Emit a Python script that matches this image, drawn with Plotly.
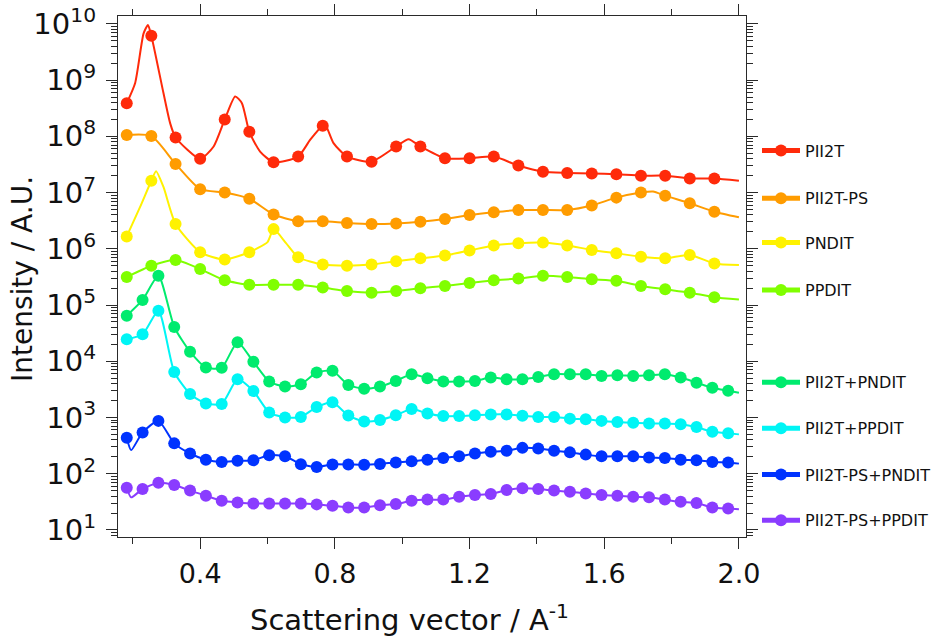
import plotly.graph_objects as go

# ---------------- data ----------------
# marker positions (scattering vector, 1/A)
Q_UPPER = [0.182, 0.255, 0.327, 0.400, 0.473, 0.546, 0.618, 0.691, 0.764, 0.836,
           0.909, 0.982, 1.054, 1.127, 1.200, 1.272, 1.345, 1.418, 1.490, 1.563,
           1.636, 1.709, 1.781, 1.854, 1.927]
Q_LOWER = [0.182, 0.229, 0.276, 0.323, 0.370, 0.417, 0.464, 0.511, 0.558, 0.605,
           0.652, 0.699, 0.746, 0.793, 0.840, 0.887, 0.934, 0.981, 1.028, 1.075,
           1.122, 1.169, 1.216, 1.263, 1.310, 1.357, 1.404, 1.451, 1.498, 1.545,
           1.592, 1.639, 1.686, 1.733, 1.780, 1.827, 1.874, 1.921, 1.968]

# log10(intensity) at the markers
PII2T = [8.59, 9.79, 7.98, 7.60, 8.30, 8.08, 7.54, 7.64, 8.19, 7.64,
         7.55, 7.82, 7.82, 7.61, 7.61, 7.64, 7.48, 7.37, 7.35, 7.34,
         7.325, 7.30, 7.30, 7.25, 7.25]
PII2T_PS = [8.025, 8.007, 7.51, 7.06, 7.00, 6.89, 6.61, 6.49, 6.49, 6.46,
            6.44, 6.45, 6.48, 6.53, 6.60, 6.65, 6.69, 6.69, 6.69, 6.77,
            6.91, 7.00, 6.945, 6.81, 6.66]
PNDIT = [6.22, 7.21, 6.44, 5.94, 5.81, 5.94, 6.35, 5.85, 5.72, 5.70,
         5.72, 5.78, 5.83, 5.88, 5.97, 6.06, 6.10, 6.11, 6.06, 5.98,
         5.92, 5.86, 5.83, 5.89, 5.74]
PPDIT = [5.50, 5.70, 5.80, 5.64, 5.44, 5.36, 5.36, 5.36, 5.31, 5.25,
         5.22, 5.25, 5.30, 5.34, 5.39, 5.44, 5.47, 5.52, 5.50, 5.46,
         5.43, 5.34, 5.28, 5.22, 5.14]
PII2T_PNDIT = [4.81, 5.09, 5.52, 4.61, 4.17, 3.89, 3.885, 4.34, 3.99, 3.64,
               3.55, 3.59, 3.80, 3.83, 3.58, 3.51, 3.55, 3.65, 3.77, 3.70,
               3.64, 3.64, 3.65, 3.71, 3.68, 3.68, 3.72, 3.77, 3.77, 3.77,
               3.74, 3.75, 3.74, 3.75, 3.77, 3.71, 3.62, 3.53, 3.475]
PII2T_PPDIT = [4.39, 4.48, 4.90, 3.81, 3.42, 3.25, 3.24, 3.68, 3.47, 3.09,
               3.00, 3.01, 3.185, 3.27, 3.035, 2.93, 2.955, 3.04, 3.15, 3.07,
               3.025, 3.025, 3.04, 3.055, 3.055, 3.03, 3.01, 3.01, 2.98, 2.97,
               2.94, 2.92, 2.905, 2.895, 2.895, 2.88, 2.83, 2.745, 2.72]
PII2T_PS_PNDIT = [2.64, 2.735, 2.94, 2.54, 2.36, 2.25, 2.21, 2.23, 2.24, 2.33,
                  2.31, 2.17, 2.12, 2.165, 2.165, 2.16, 2.175, 2.20, 2.22, 2.25,
                  2.28, 2.31, 2.36, 2.39, 2.41, 2.46, 2.45, 2.41, 2.38, 2.34,
                  2.31, 2.31, 2.31, 2.29, 2.28, 2.25, 2.24, 2.21, 2.20]
PII2T_PS_PPDIT = [1.75, 1.73, 1.84, 1.80, 1.70, 1.61, 1.52, 1.49, 1.47, 1.47,
                  1.47, 1.47, 1.455, 1.43, 1.40, 1.40, 1.44, 1.46, 1.52, 1.54,
                  1.54, 1.59, 1.62, 1.64, 1.71, 1.74, 1.73, 1.70, 1.68, 1.65,
                  1.62, 1.61, 1.59, 1.58, 1.54, 1.50, 1.48, 1.40, 1.38]

# extra points of the continuous curves (between markers, no marker drawn)
PII2T_LINE_Q = [0.207, 0.232, 0.245, 0.291, 0.311, 0.440, 0.504, 0.524, 0.578,
                0.727, 0.772, 0.796, 1.019, 2.000]
PII2T_LINE_I = [8.95, 9.83, 9.98, 8.77, 8.23, 7.82, 8.71, 8.59, 7.73,
                7.94, 8.20, 7.88, 7.95, 7.21]
PII2T_PS_LINE_Q = [1.745, 2.000]
PII2T_PS_LINE_I = [7.02, 6.56]
PNDIT_LINE_Q = [0.222, 0.269, 0.291, 0.600, 0.655, 2.000]
PNDIT_LINE_I = [6.75, 7.38, 7.10, 6.12, 6.10, 5.71]
PPDIT_LINE_Q = [2.000]
PPDIT_LINE_I = [5.10]
PII2T_PNDIT_LINE_Q = [2.000]
PII2T_PNDIT_LINE_I = [3.44]
PII2T_PPDIT_LINE_Q = [2.000]
PII2T_PPDIT_LINE_I = [2.70]
PII2T_PS_PNDIT_LINE_Q = [0.195, 2.000]
PII2T_PS_PNDIT_LINE_I = [2.42, 2.18]
PII2T_PS_PPDIT_LINE_Q = [0.195, 2.000]
PII2T_PS_PPDIT_LINE_I = [1.58, 1.37]

NAMES = ["PII2T", "PII2T-PS", "PNDIT", "PPDIT",
         "PII2T+PNDIT", "PII2T+PPDIT", "PII2T-PS+PNDIT", "PII2T-PS+PPDIT"]
COLORS = ["#ff2a0a", "#ff9c00", "#fff200", "#80ff00",
          "#00eb6e", "#00f5f5", "#0033ff", "#8a3cff"]

SERIES = [
    (Q_UPPER, PII2T, PII2T_LINE_Q, PII2T_LINE_I),
    (Q_UPPER, PII2T_PS, PII2T_PS_LINE_Q, PII2T_PS_LINE_I),
    (Q_UPPER, PNDIT, PNDIT_LINE_Q, PNDIT_LINE_I),
    (Q_UPPER, PPDIT, PPDIT_LINE_Q, PPDIT_LINE_I),
    (Q_LOWER, PII2T_PNDIT, PII2T_PNDIT_LINE_Q, PII2T_PNDIT_LINE_I),
    (Q_LOWER, PII2T_PPDIT, PII2T_PPDIT_LINE_Q, PII2T_PPDIT_LINE_I),
    (Q_LOWER, PII2T_PS_PNDIT, PII2T_PS_PNDIT_LINE_Q, PII2T_PS_PNDIT_LINE_I),
    (Q_LOWER, PII2T_PS_PPDIT, PII2T_PS_PPDIT_LINE_Q, PII2T_PS_PPDIT_LINE_I),
]

# ---------------- geometry (page pixels) ----------------
PAGE_W, PAGE_H = 936, 641
PLOT_L, PLOT_R, PLOT_T, PLOT_B = 118, 746, 16, 537
PW, PH = PLOT_R - PLOT_L, PLOT_B - PLOT_T
LEGEND_ROWS_PX = [150.7, 198.3, 242.7, 290.0, 382.3, 428.3, 474.7, 520.3]


def px_x(px):
    return (px - PLOT_L) / PW


def px_y(py):
    return (PLOT_B - py) / PH


FONT = "DejaVu Sans"
AX = "#2a2a2a"
MSIZE = 12

fig = go.Figure()
layout_legends = {}
for i, (name, col, (qm, im, ql, il)) in enumerate(zip(NAMES, COLORS, SERIES)):
    pts = [(q, v, MSIZE) for q, v in zip(qm, im)] + [(q, v, 0) for q, v in zip(ql, il)]
    pts.sort(key=lambda p: p[0])
    lname = "legend" if i == 0 else f"legend{i + 1}"
    fig.add_trace(go.Scatter(
        x=[p[0] for p in pts], y=[10 ** p[1] for p in pts],
        mode="lines+markers", name=name, legend=lname,
        line=dict(color=col, width=2, shape="spline", smoothing=0.6),
        marker=dict(color=col, size=[p[2] for p in pts], opacity=1,
                    line=dict(width=0)),
    ))
    layout_legends[lname] = dict(
        x=px_x(757), xanchor="left",
        y=px_y(LEGEND_ROWS_PX[i]), yanchor="middle",
        bgcolor="rgba(0,0,0,0)", borderwidth=0, itemsizing="constant",
        itemwidth=38,
        font=dict(family=FONT, size=16, color="#111"),
    )

minor_y = [m * 10 ** n for n in range(0, 11) for m in range(2, 10)]
fig.update_layout(
    width=PAGE_W, height=PAGE_H,
    margin=dict(l=PLOT_L, r=PAGE_W - PLOT_R, t=PLOT_T,
                b=PAGE_H - PLOT_B, autoexpand=False),
    paper_bgcolor="white", plot_bgcolor="white",
    showlegend=True,
    font=dict(family=FONT, color="#111"),
    **layout_legends,
)
fig.update_xaxes(
    range=[0.156, 2.021], automargin=False,
    tickvals=[0.4, 0.8, 1.2, 1.6, 2.0], ticktext=["0.4", "0.8", "1.2", "1.6", "2.0"],
    ticks="outside", ticklen=11, tickwidth=1.3, tickcolor=AX,
    showline=True, linecolor=AX, linewidth=1.3, mirror="allticks",
    showgrid=False, zeroline=False,
    minor=dict(tickvals=[0.2, 0.6, 1.0, 1.4, 1.8], ticks="outside", ticklen=6,
               tickwidth=1.3, tickcolor=AX, showgrid=False),
    tickfont=dict(family=FONT, size=27, color="#111"),
    ticklabelstandoff=1, ticklabeloverflow="allow",
)
fig.update_yaxes(
    type="log", range=[0.875, 10.14], automargin=False,
    tickvals=[10 ** n for n in range(1, 11)],
    ticktext=[f"10<sup>{n}</sup>" for n in range(1, 11)],
    ticks="outside", ticklen=11, tickwidth=1.3, tickcolor=AX,
    showline=True, linecolor=AX, linewidth=1.3, mirror="allticks",
    showgrid=False, zeroline=False,
    minor=dict(tickvals=minor_y, ticks="outside", ticklen=6,
               tickwidth=1.1, tickcolor=AX, showgrid=False),
    tickfont=dict(family=FONT, size=29, color="#111"),
    ticklabelstandoff=4, ticklabeloverflow="allow",
)
fig.add_annotation(
    text="Scattering vector / A<sup>-1</sup>", xref="paper", yref="paper",
    x=px_x(409), y=px_y(618), xanchor="center", yanchor="middle",
    showarrow=False, font=dict(family=FONT, size=29, color="#111"),
)
fig.add_annotation(
    text="Intensity / A.U.", xref="paper", yref="paper", textangle=-90,
    x=px_x(22), y=px_y(279), xanchor="center", yanchor="middle",
    showarrow=False, font=dict(family=FONT, size=28, color="#111"),
)

# remove the browser's default 8px body margin so the figure fills the page
fig.write_html("out.html", config={"displayModeBar": False},
               post_script="document.body.style.margin='0px';")
